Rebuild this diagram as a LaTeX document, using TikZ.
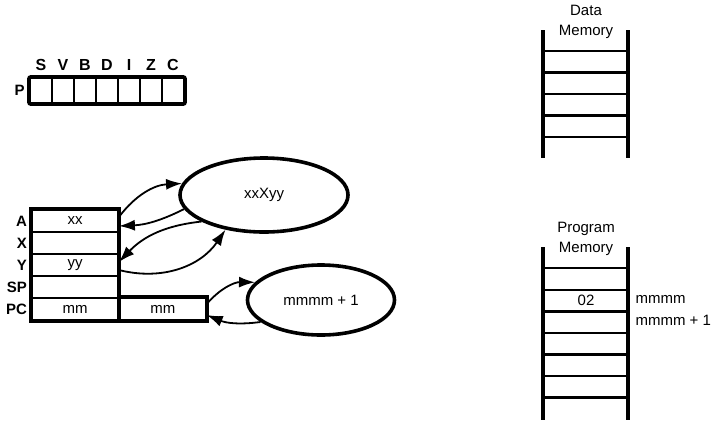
\documentclass[tikz,border=0pt]{standalone}
\usepackage{fontspec}
\setmainfont{Liberation Sans}
\usetikzlibrary{positioning,shapes.geometric,arrows.meta}

\begin{document}
\begin{tikzpicture}[
        x=1pt, y=-1pt,
        font=\fontsize{15}{17}\selectfont,
        flagbox/.style={rectangle, draw, line width=2.2pt, minimum width=22pt, minimum height=25pt, inner sep=0pt},
        flagname/.style={font=\fontsize{16}{18}\selectfont\bfseries},
        reg/.style={rectangle, draw, line width=1.8pt, minimum width=86pt, minimum height=22pt, inner sep=0pt},
        regname/.style={anchor=east, inner sep=4pt, font=\fontsize{15}{17}\selectfont\bfseries},
        blob/.style={ellipse, draw, line width=3.6pt, inner sep=0pt},
        link/.style={-{Latex[length=16pt,width=11pt]}, line width=1.8pt},
        memtitle/.style={align=center, font=\fontsize{15}{20}\selectfont},
        rail/.style={line width=3.2pt},
        rung/.style={line width=2.2pt}
    ]
    \useasboundingbox (0,0) rectangle (719,421);

    % Status register P
    \foreach \f [count=\i] in {S,V,B,D,I,Z,C} {
        \node[flagbox] (p\i) at ({19+22*\i}, 90.5) {};
        \node[flagname] (f\i) at ({19+22*\i}, 65) {\f};
    }
    \draw[line width=3.6pt, rounded corners=2pt] (p1.north west) rectangle (p7.south east);
    \node[regname] (pname) at (p1.west) {P};

    % Registers A, X, Y, SP, PC
    \foreach \r/\v [count=\i] in {A/xx, X/{}, Y/yy, SP/{}, PC/mm} {
        \node[reg] (reg\r) at (75, {199+22*\i}) {\v};
        \node[regname] (name\r) at (reg\r.west) {\r};
    }
    \node[reg, right=0pt of regPC] (regPCH) {mm};
    \draw[line width=3.6pt] (regA.north west) -- (regA.north east) -- (regPCH.north west)
        -- (regPCH.north east) -- (regPCH.south east) -- (regPC.south west) -- cycle;

    % Address calculations
    \node[blob, minimum width=168pt, minimum height=74pt] (xy) at (264,195) {xxXyy};
    \node[blob, minimum width=147pt, minimum height=70pt] (inc) at (321,300) {mmmm + 1};

    \draw[link] ([yshift=4pt]regA.east) to[bend left=25] (xy.172);
    \draw[link] (xy.190) to[bend left=12] ([yshift=-5pt]regA.east);
    \draw[link] (xy.203) to[bend right=20] ([yshift=3pt]regY.east);
    \draw[link] ([yshift=-5pt]regY.east) to[bend right=35] (xy.222);
    \draw[link] ([yshift=5pt]regPCH.east) to[bend left=25] (inc.165);
    \draw[link] (inc.200) to[bend left=15] ([yshift=-6pt]regPCH.east);

    % Data memory
    \node[memtitle] (dmem) at (586,22) {Data\\Memory};
    \draw[rail] (543,30) -- (543,158);
    \draw[rail] (628,30) -- (628,158);
    \foreach \y in {51,72.5,94,115.5,137}
        \draw[rung] (543,\y) -- (628,\y);

    % Program memory
    \node[memtitle] (pmem) at (586,239) {Program\\Memory};
    \draw[rail] (543,247) -- (543,420);
    \draw[rail] (628,247) -- (628,420);
    \foreach \y in {268,290,311.5,333,354.5,376,397.5}
        \draw[rung] (543,\y) -- (628,\y);
    \node (op) at (586,300) {02};
    \node[anchor=west] (addr) at (632,299) {mmmm};
    \node[anchor=west] (addrnext) at (632,320) {mmmm + 1};
\end{tikzpicture}
\end{document}
